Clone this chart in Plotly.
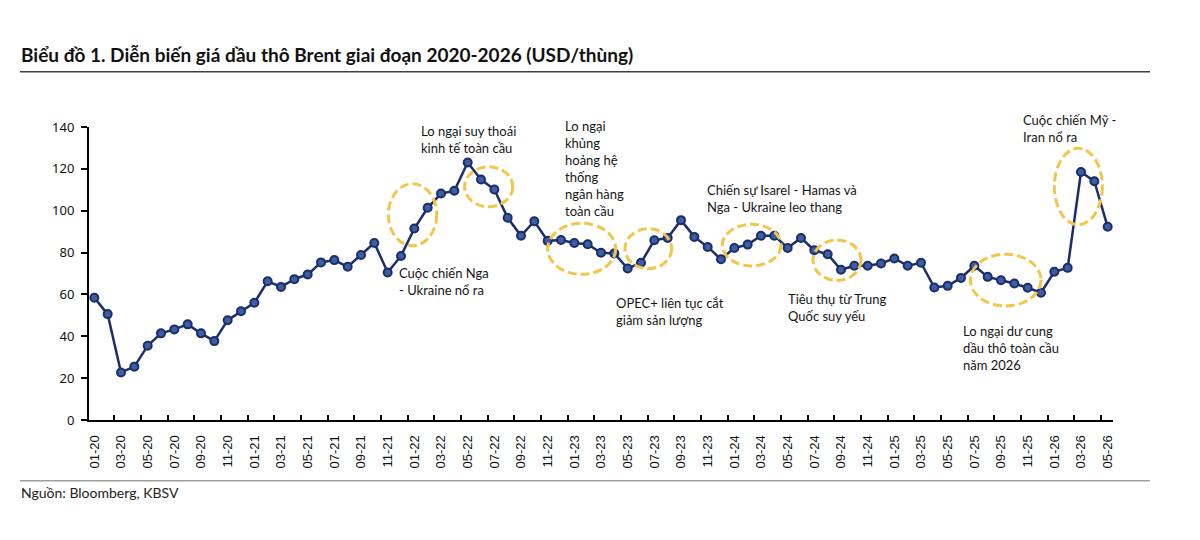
import plotly.graph_objects as go

# ---------------- data ----------------
months = [f"{m:02d}-{y:02d}" for y in range(20, 27) for m in range(1, 13)][:77]

prices = [58.4, 50.6, 22.7, 25.5, 35.5, 41.4, 43.3, 45.7, 41.4, 37.7, 47.7, 52.0,
          56.0, 66.3, 63.6, 67.3, 69.5, 75.3, 76.4, 73.2, 78.8, 84.6, 70.5, 78.4,
          91.5, 101.4, 108.2, 109.5, 123.0, 114.9, 110.1, 96.6, 88.0, 95.0, 85.6, 86.0,
          84.6, 84.0, 79.9, 79.6, 72.4, 75.1, 85.9, 87.0, 95.5, 87.5, 82.7, 76.8,
          82.2, 83.8, 88.0, 88.0, 82.2, 87.0, 81.1, 79.2, 71.8, 73.7, 73.7, 74.8,
          77.2, 73.7, 75.1, 63.3, 64.1, 67.9, 73.7, 68.4, 66.8, 65.2, 63.2, 60.8,
          70.8, 72.7, 118.5, 114.1, 92.3]

tick_labels = months[::2]
y_ticks = [0, 20, 40, 60, 80, 100, 120, 140]

# event notes: (text, x index, y value)
notes = [
    ("Lo ngại suy thoái<br>kinh tế toàn cầu", 24.36, 134.1),
    ("Cuộc chiến Nga<br>- Ukraine nổ ra", 22.7, 66.0),
    ("Lo ngại<br>khủng<br>hoảng hệ<br>thống<br>ngân hàng<br>toàn cầu", 35.16, 120.3),
    ("OPEC+ liên tục cắt<br>giảm sản lượng", 39.0, 51.7),
    ("Chiến sự Isarel - Hamas và<br>Nga - Ukraine leo thang", 45.8, 106.0),
    ("Tiêu thụ từ Trung<br>Quốc suy yếu", 51.9, 53.8),
    ("Lo ngại dư cung<br>dầu thô toàn cầu<br>năm 2026", 65.0, 34.4),
    ("Cuộc chiến Mỹ -<br>Iran nổ ra", 69.5, 139.2),
]

# highlighted periods: (x0, x1, y0, y1)
rings = [
    (22.05, 25.68, 83.3, 112.9),
    (27.77, 31.38, 101.9, 121.0),
    (34.0, 39.1, 69.6, 94.0),
    (39.8, 43.3, 72.3, 91.4),
    (47.1, 51.5, 73.6, 93.5),
    (53.9, 57.5, 66.7, 86.0),
    (65.7, 71.0, 54.5, 79.2),
    (72.0, 75.6, 93.3, 129.8),
]

x_idx = list(range(len(prices)))

fig = go.Figure()
fig.add_trace(go.Scatter(
    x=x_idx, y=prices, mode="lines+markers",
    line=dict(color="#1B2D6B", width=2.5),
    marker=dict(size=8, color="#3F5E9E", line=dict(color="#1B2D6B", width=2)),
    hoverinfo="x+y", showlegend=False, cliponaxis=False,
))

PW, PH, L, T = 1024, 293, 89, 127

def px(xp):
    return (xp - L) / PW

def py(yp):
    return (T + PH - yp) / PH

shapes = []
for x0, x1, y0, y1 in rings:
    shapes.append(dict(type="circle", xref="x", yref="y", x0=x0, x1=x1, y0=y0, y1=y1,
                       line=dict(color="#F2C64B", width=3, dash="9px,4px"), layer="above"))
# title underline & source line
shapes.append(dict(type="line", xref="paper", yref="paper", x0=px(20), x1=px(1150),
                   y0=py(71.7), y1=py(71.7), line=dict(color="#404040", width=1.5)))
shapes.append(dict(type="line", xref="paper", yref="paper", x0=px(20), x1=px(1150),
                   y0=py(480.7), y1=py(480.7), line=dict(color="#A0A0A0", width=1.5)))

annotations = []
for text, x, y in notes:
    annotations.append(dict(text=text, x=x, y=y, xref="x", yref="y", showarrow=False,
                            xanchor="left", yanchor="middle", align="left",
                            font=dict(family="Lato", size=13, color="#151515")))
annotations.append(dict(text="<b>Biểu đồ 1. Diễn biến giá dầu thô Brent giai đoạn 2020-2026 (USD/thùng)</b>",
                        x=px(19), y=py(55), xref="paper", yref="paper", showarrow=False,
                        xanchor="left", yanchor="middle",
                        font=dict(family="Lato", size=19, color="#111111")))
annotations.append(dict(text="Nguồn: Bloomberg, KBSV",
                        x=px(19), y=py(492), xref="paper", yref="paper", showarrow=False,
                        xanchor="left", yanchor="middle",
                        font=dict(family="Lato", size=14, color="#222222")))

fig.update_layout(
    width=1200, height=540,
    margin=dict(l=L, r=1200 - L - PW, t=T, b=540 - T - PH, pad=0),
    paper_bgcolor="white", plot_bgcolor="white",
    shapes=shapes, annotations=annotations,
    xaxis=dict(
        range=[-0.4, 76.4], showgrid=False, zeroline=False,
        showline=True, linecolor="black", linewidth=2,
        tickmode="array", tickvals=x_idx[::2], ticktext=tick_labels,
        tickangle=-90, ticks="", ticklabelstandoff=8,
        tickfont=dict(family="Liberation Sans", size=13, color="#111111"),
        minor=dict(tickmode="array", tickvals=[i + 0.5 for i in x_idx[1:-1:2]],
                   ticks="inside", ticklen=5, tickwidth=1.5, tickcolor="black",
                   showgrid=False),
    ),
    yaxis=dict(
        range=[0, 140], showgrid=False, zeroline=False,
        showline=True, linecolor="black", linewidth=2,
        tickmode="array", tickvals=y_ticks,
        ticks="outside", ticklen=6, tickwidth=1.5, tickcolor="black",
        tickfont=dict(family="Noto Sans", size=13, color="#111111"),
        ticklabelstandoff=4,
    ),
)

fig.write_html("out.html")
